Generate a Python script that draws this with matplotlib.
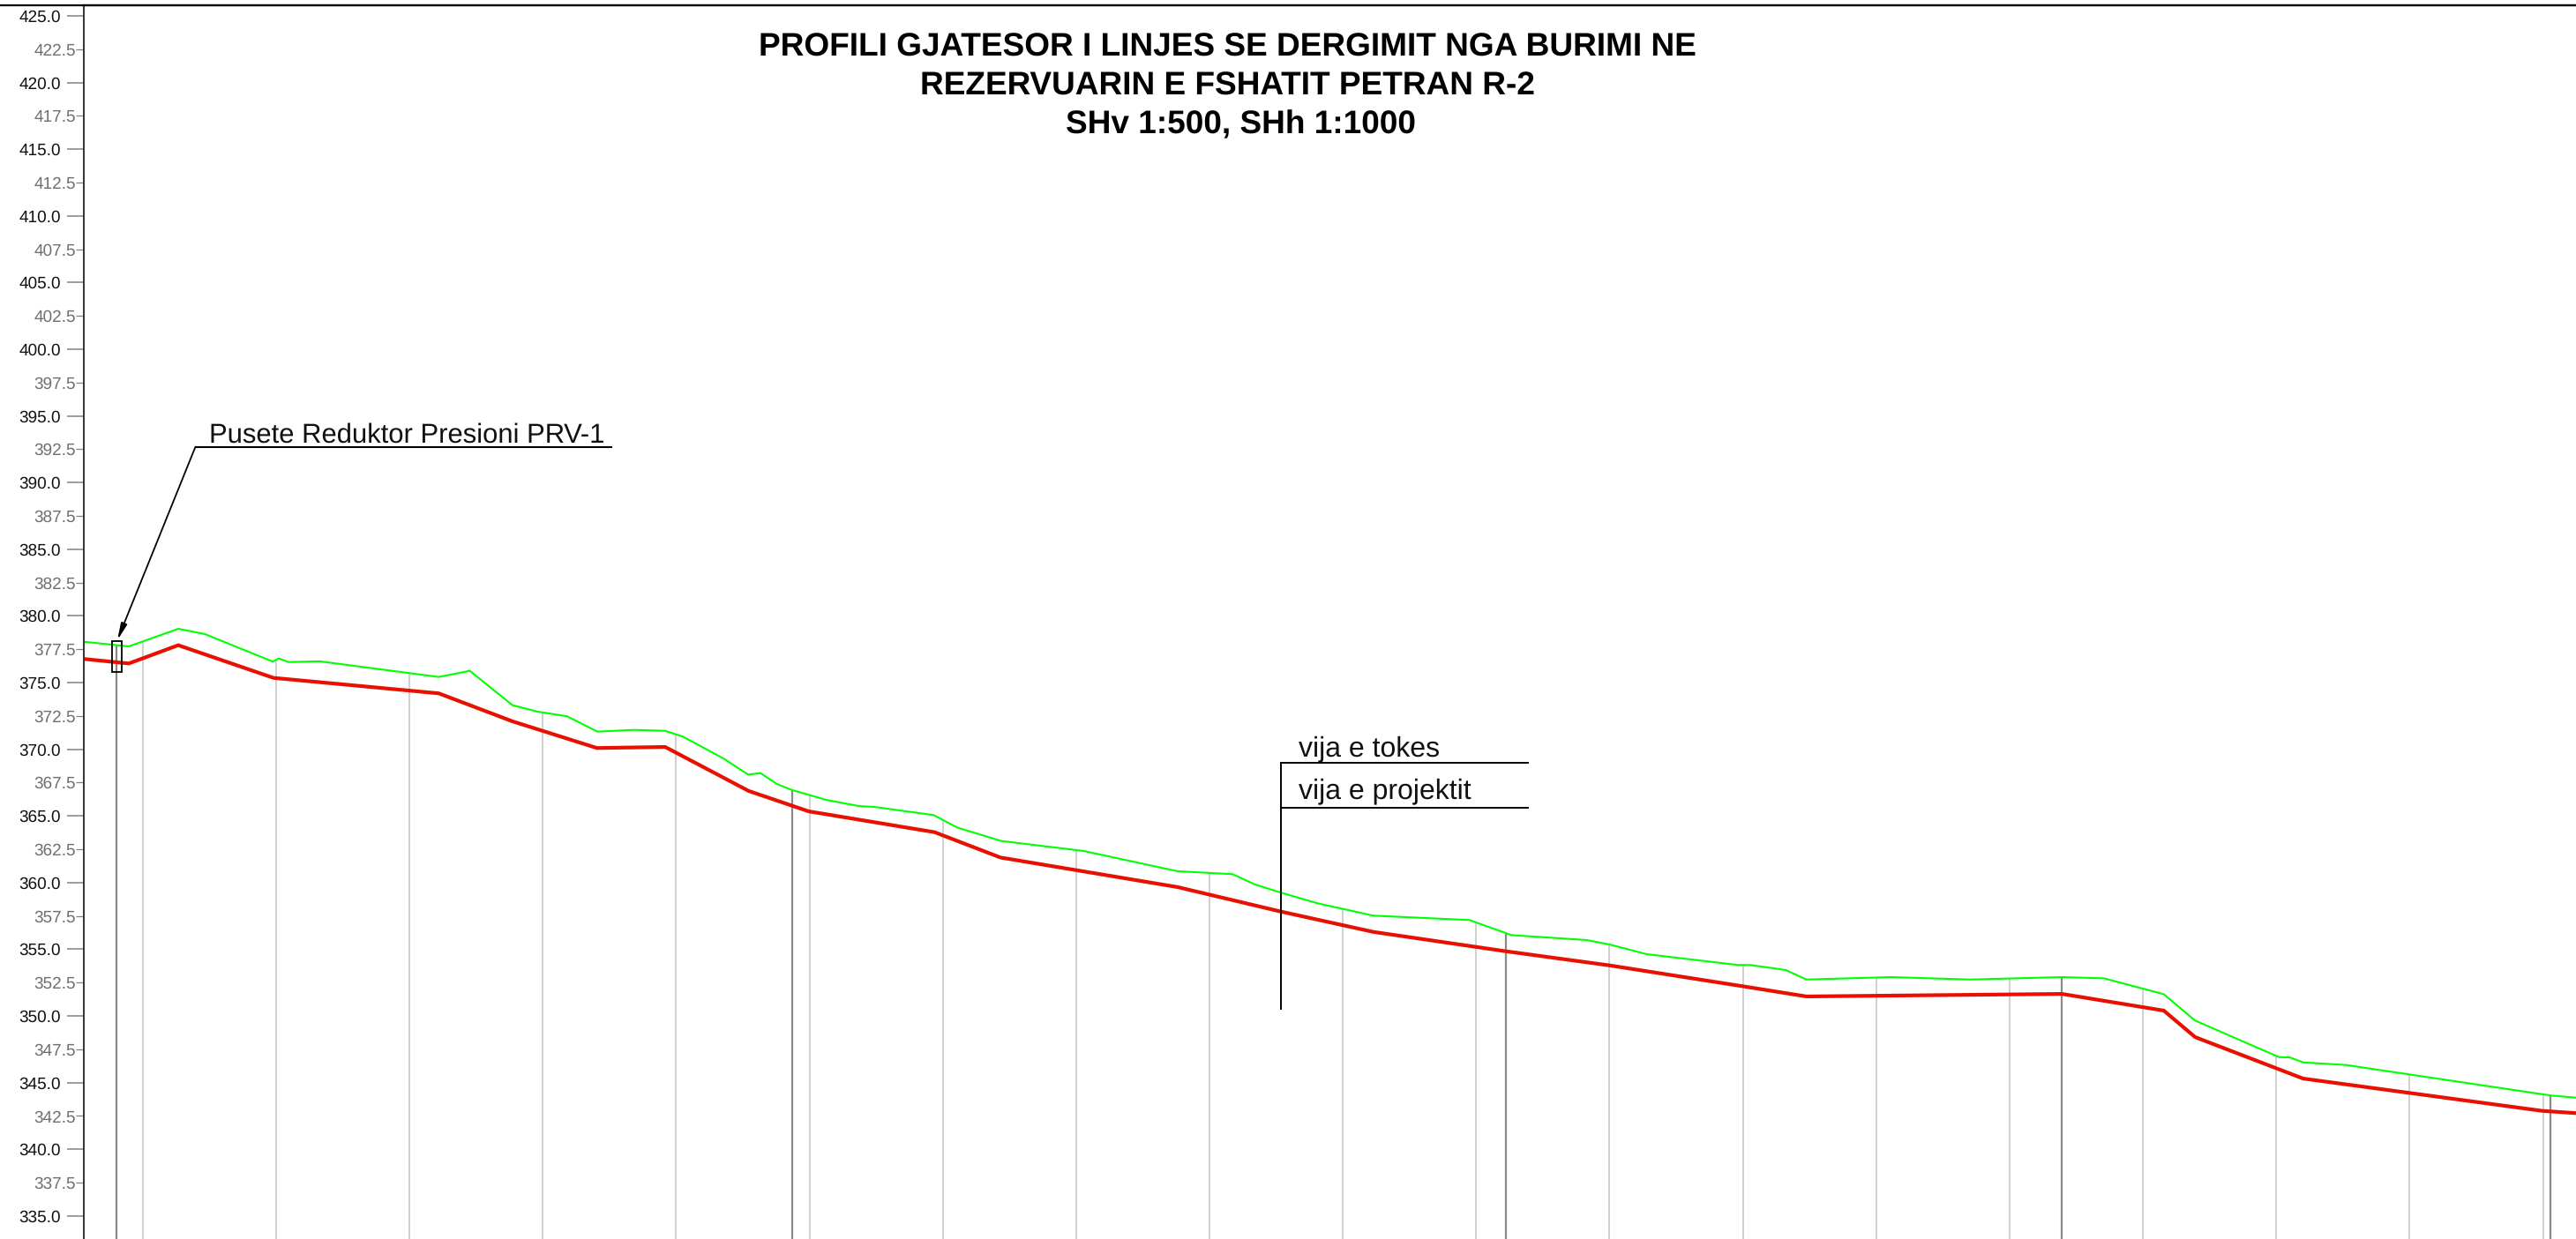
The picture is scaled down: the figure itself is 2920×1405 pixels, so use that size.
import matplotlib
matplotlib.use('Agg')
import matplotlib.pyplot as plt
import numpy as np
from matplotlib.lines import Line2D
from matplotlib.patches import Rectangle

plt.rcParams['font.family'] = ['Liberation Sans', 'DejaVu Sans']
plt.rcParams['text.hinting'] = 'no_hinting'
plt.rcParams['text.hinting_factor'] = 1

# ground profile (chainage m, elevation m)
ground_x = [0, 6.75, 14.16, 18.13, 28.35, 29.24, 30.66, 35.42, 53.23, 57.89, 64.30, 68.05,
            72.47, 77.04, 82.47, 87.19, 89.84, 95.92, 99.63, 101.48, 103.96, 106.28, 111.37,
            116.21, 118.64, 127.46, 130.99, 137.60, 149.95, 164.06, 172.31, 175.58, 179.58,
            185.01, 193.40, 207.82, 214.12, 225.36, 228.80, 234.41, 248.08, 249.93, 255.27,
            258.36, 271.01, 282.92, 296.68, 302.99, 311.95, 316.66, 329.23, 330.84, 332.89,
            339.28, 370.03, 373.78]
ground_y = [378.06, 377.71, 379.03, 378.64, 376.57, 376.81, 376.54, 376.59, 375.42, 375.88, 373.30, 372.82,
            372.47, 371.32, 371.45, 371.38, 370.95, 369.31, 368.10, 368.21, 367.39, 366.93, 366.20,
            365.74, 365.67, 365.06, 364.13, 363.12, 362.37, 360.85, 360.63, 359.87, 359.24,
            358.45, 357.52, 357.19, 356.06, 355.69, 355.36, 354.63, 353.82, 353.82, 353.44,
            352.73, 352.91, 352.73, 352.91, 352.82, 351.63, 349.65, 346.91, 346.89, 346.51,
            346.32, 344.03, 343.87]

# pipe line
pipe_x = [0, 6.75, 14.16, 28.45, 53.23, 64.30, 76.96, 87.19, 99.72, 108.72, 127.59, 137.47,
          164.06, 179.58, 193.40, 213.24, 228.80, 248.74, 258.36, 296.68, 311.95, 316.66,
          332.86, 368.71, 373.78]
pipe_y = [376.77, 376.43, 377.80, 375.35, 374.19, 372.09, 370.09, 370.17, 366.87, 365.34, 363.78, 361.88,
          359.66, 357.82, 356.30, 354.85, 353.79, 352.23, 351.46, 351.65, 350.40, 348.41,
          345.30, 342.88, 342.71]

# vertical station lines
light_stations = [8.83, 28.83, 48.83, 68.83, 88.83, 108.83, 128.83, 148.83, 168.83, 188.83,
                  208.83, 228.83, 248.83, 268.83, 288.83, 308.83, 328.83, 348.83, 368.83]
dark_stations = [4.94, 106.28, 213.24, 296.68, 369.98]

major_ticks = np.arange(335, 425.1, 5)
minor_ticks = np.arange(337.5, 423, 5)

W, H = 2920, 1405
fig = plt.figure(figsize=(W / 100, H / 100), dpi=100)
ax = fig.add_axes([95 / W, 0, 1 - 95 / W, (H - 6) / H])
ax.set_xlim(0, 373.78)
ax.set_ylim(333.27, 425.79)


def fx(px):
    return px / W


def fy(py):
    return 1 - py / H


ax.vlines(light_stations, 333.27, np.interp(light_stations, ground_x, ground_y), color='#c8c8c8', lw=1.2)
ax.vlines(dark_stations, 333.27, np.interp(dark_stations, ground_x, ground_y), color='#8a8a8a', lw=1.6)

ax.plot(ground_x, ground_y, color='#00ff00', lw=1.5, solid_joinstyle='miter')
ax.plot(pipe_x, pipe_y, color='#e81000', lw=3, solid_joinstyle='miter')

ax.set_xticks([])
ax.set_yticks(major_ticks)
ax.set_yticklabels(['{:.1f}'.format(v) for v in major_ticks])
ax.set_yticks(minor_ticks, minor=True)
ax.set_yticklabels(['{:.1f}'.format(v) for v in minor_ticks], minor=True)
ax.tick_params(axis='y', which='major', length=13.7, width=1.1, color='#808080', pad=5,
               labelsize=13.7, labelcolor='#111111')
ax.tick_params(axis='y', which='minor', length=6.5, width=0.9, color='#808080', pad=0,
               labelsize=13.7, labelcolor='#707070')

ax.spines['right'].set_visible(False)
ax.spines['bottom'].set_visible(False)
ax.spines['left'].set_color('#333333')
ax.spines['left'].set_linewidth(1.4)
ax.spines['top'].set_color('#000000')
ax.spines['top'].set_linewidth(1.6)
# top rule runs over the whole width
fig.add_artist(Line2D([0, 1], [fy(6), fy(6)], color='black', lw=1.6))

# title
fig.text(fx(1391), fy(54), 'PROFILI GJATESOR I LINJES SE DERGIMIT NGA BURIMI NE',
         ha='center', va='center', fontsize=26.6, fontweight='bold', color='black')
fig.text(fx(1391), fy(98), 'REZERVUARIN E FSHATIT PETRAN R-2',
         ha='center', va='center', fontsize=26.6, fontweight='bold', color='black')
fig.text(fx(1406), fy(142), 'SHv 1:500, SHh 1:1000',
         ha='center', va='center', fontsize=26.6, fontweight='bold', color='black')

# valve label with leader
fig.text(fx(237), fy(501.7), 'Pusete Reduktor Presioni PRV-1', ha='left', va='baseline',
         fontsize=22.4, color='#111111')
fig.add_artist(Line2D([fx(693), fx(221.5)], [fy(506.7), fy(506.7)], color='black', lw=1.5))
ax.annotate('', xy=(fx(133), fy(726)), xytext=(fx(221.5), fy(506.7)),
            xycoords='figure fraction', textcoords='figure fraction',
            arrowprops=dict(arrowstyle='-|>,head_length=0.8,head_width=0.15', color='black', lw=1.3,
                            shrinkA=0, shrinkB=0, mutation_scale=14))
fig.add_artist(Rectangle((fx(126.7), fy(762)), fx(138.3) - fx(126.7), fy(726.7) - fy(762),
                         transform=fig.transFigure, fill=False, ec='black', lw=1.3))

# legend block
fig.add_artist(Line2D([fx(1452.3), fx(1452.3)], [fy(865), fy(1144)], color='black', lw=1.4))
fig.add_artist(Line2D([fx(1452.3), fx(1732)], [fy(865), fy(865)], color='black', lw=1.4))
fig.add_artist(Line2D([fx(1452.3), fx(1732)], [fy(915.7), fy(915.7)], color='black', lw=1.4))
fig.text(fx(1471.7), fy(857.5), 'vija e tokes', ha='left', va='baseline', fontsize=22.9, color='#111111')
fig.text(fx(1471.7), fy(905.7), 'vija e projektit', ha='left', va='baseline', fontsize=22.9, color='#111111')

fig.savefig('out.png', dpi=100)
